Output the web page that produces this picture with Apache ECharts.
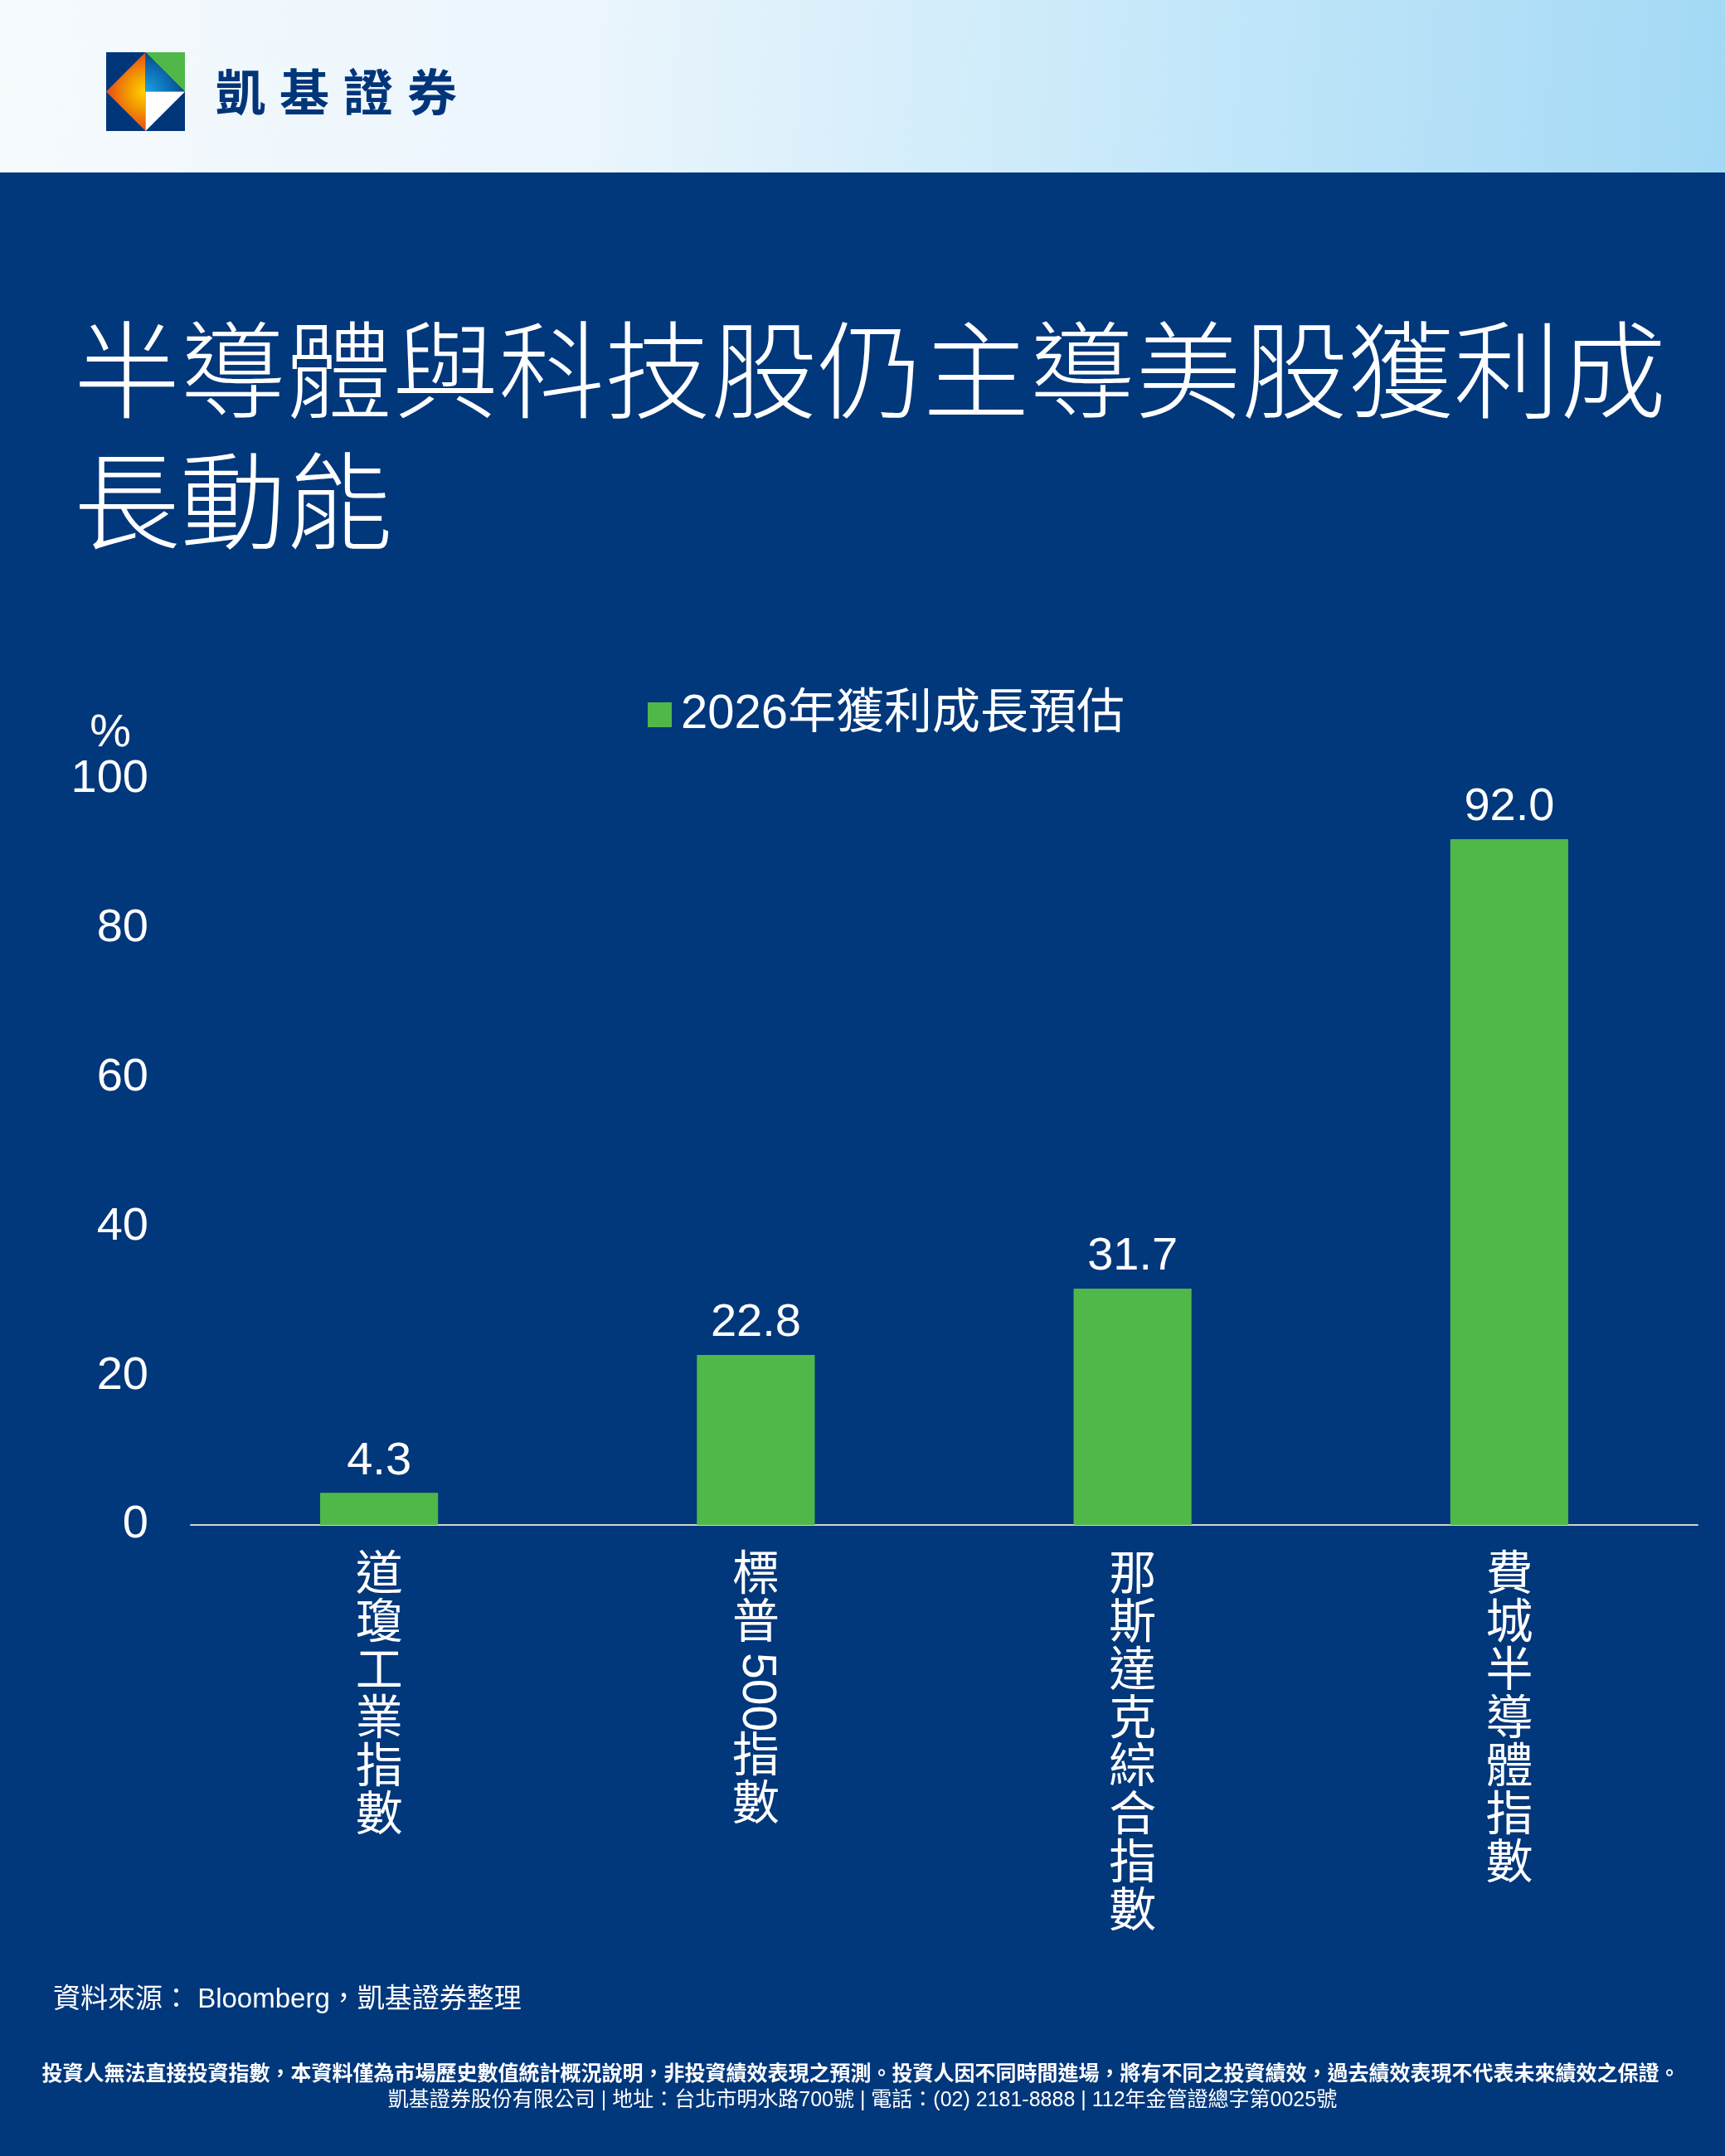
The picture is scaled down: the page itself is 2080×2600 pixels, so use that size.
<!DOCTYPE html>
<html lang="zh-Hant-TW">
<head>
<meta charset="utf-8">
<title>半導體與科技股仍主導美股獲利成長動能</title>
<script src="https://cdn.jsdelivr.net/npm/echarts@6/dist/echarts.min.js"></script>
<style>
  html, body { margin: 0; padding: 0; background: #01377b; }
  #chart { width: 2080px; height: 2600px; }
</style>
</head>
<body>
<div id="chart"></div>
<script>
"use strict";
// 資料
var categories = ["道瓊工業指數", "標普500指數", "那斯達克綜合指數", "費城半導體指數"];
var growth = [4.3, 22.8, 31.7, 92.0];
var seriesName = "2026年獲利成長預估";
var yMin = 0, yMax = 100, yStep = 20;

var titleText = "半導體與科技股仍主導美股獲利成\n長動能";
var sourceText = "資料來源： Bloomberg，凱基證券整理";
var disclaimer = "投資人無法直接投資指數，本資料僅為市場歷史數值統計概況說明，非投資績效表現之預測。投資人因不同時間進場，將有不同之投資績效，過去績效表現不代表未來績效之保證。";
var companyLine = "凱基證券股份有限公司 | 地址：台北市明水路700號 | 電話：(02) 2181-8888 | 112年金管證總字第0025號";
var brand = "凱基證券";

var NAVY = "#01377b";
var GREEN = "#50b848";
var FONT = "'Liberation Sans', 'Noto Sans CJK TC', sans-serif";
var CJK = "'Noto Sans CJK TC', 'Liberation Sans', sans-serif";

var chart = echarts.init(document.getElementById("chart"));

chart.setOption({
    backgroundColor: NAVY,
    animation: false,
    title: {
        text: titleText,
        left: 84,
        top: 362,
        textStyle: {color: "#fff", fontSize: 128, lineHeight: 158, fontWeight: 300, fontFamily: CJK}
    },
    legend: {
        data: [seriesName],
        left: 776,
        top: 828,
        icon: "rect",
        itemWidth: 29,
        itemHeight: 30,
        textStyle: {color: "#fff", fontSize: 58, fontFamily: FONT, padding: [0, 0, 0, 6]}
    },
    grid: {left: 230, right: 33, top: 940, bottom: 761, containLabel: false},
    xAxis: {
        type: "category",
        data: categories,
        axisLine: {lineStyle: {color: "#d3d3d3", width: 2}},
        axisTick: {show: false},
        axisLabel: {show: false}
    },
    yAxis: {
        type: "value",
        min: yMin,
        max: yMax,
        interval: yStep,
        name: "%",
        nameLocation: "end",
        nameGap: 24,
        nameTextStyle: {color: "#fff", fontSize: 56, fontFamily: FONT, align: "right", padding: [0, 72, 0, 0]},
        axisLine: {show: false},
        axisTick: {show: false},
        splitLine: {show: false},
        axisLabel: {color: "#fff", fontSize: 56, fontFamily: FONT, margin: 51}
    },
    series: [{
        name: seriesName,
        type: "bar",
        data: growth,
        barWidth: "31.3%",
        itemStyle: {color: GREEN},
        label: {
            show: true,
            position: "top",
            distance: 10,
            color: "#fff",
            fontSize: 56,
            fontFamily: FONT,
            formatter: function (p) { return p.value.toFixed(1); }
        }
    }]
});

/**
 * 直書類別標籤：中文逐字往下排，數字旋轉 90 度
 */
var catFont = "57px " + FONT;
var catStep = 58;
var measureCtx = document.createElement("canvas").getContext("2d");
function textWidth(s, font) {
    measureCtx.font = font;
    return measureCtx.measureText(s).width;
}
function verticalLabel(text, cx, top, idx) {
    var els = [], y = top, i = 0, n = 0;
    while (i < text.length) {
        if (/[0-9A-Za-z]/.test(text[i])) {
            var run = "";
            while (i < text.length && /[0-9A-Za-z]/.test(text[i])) { run += text[i]; i++; }
            var w = textWidth(run, catFont);
            els.push({
                type: "text", id: "cat" + idx + "_" + (n++),
                x: cx, y: y + 4 + w / 2, rotation: -Math.PI / 2,
                style: {text: run, font: catFont, fill: "#fff", textAlign: "center", textVerticalAlign: "middle", align: "center", verticalAlign: "middle"}
            });
            y += w + 8;
        } else {
            els.push({
                type: "text", id: "cat" + idx + "_" + (n++),
                x: cx, y: y,
                style: {text: text[i], font: catFont, fill: "#fff", textAlign: "center", textVerticalAlign: "top", align: "center", verticalAlign: "top"}
            });
            y += catStep;
            i++;
        }
    }
    return els;
}

var baseY = chart.convertToPixel({yAxisIndex: 0}, 0);
var elements = [];

// 頁首漸層
elements.push({
    type: "rect", id: "header",
    shape: {x: 0, y: 0, width: 2080, height: 208},
    style: {fill: new echarts.graphic.LinearGradient(0, 0, 1, 0.6, [
        {offset: 0, color: "#f6fafd"},
        {offset: 0.35, color: "#eaf5fc"},
        {offset: 0.65, color: "#c8e9fa"},
        {offset: 1, color: "#a3d9f5"}
    ])}
});

// 標誌
elements.push({type: "rect", id: "logoBg", shape: {x: 128, y: 63, width: 95, height: 95}, style: {fill: "#003679"}});
elements.push({
    type: "polygon", id: "logoOrange",
    shape: {points: [[175.5, 63], [128, 110.5], [175.5, 158]]},
    style: {fill: new echarts.graphic.RadialGradient(1, 0.5, 1, [
        {offset: 0, color: "#ffd400"},
        {offset: 0.45, color: "#f39a00"},
        {offset: 1, color: "#e8491b"}
    ])}
});
elements.push({type: "polygon", id: "logoGreen", shape: {points: [[175.5, 63], [223, 63], [223, 110.5]]}, style: {fill: GREEN}});
elements.push({
    type: "polygon", id: "logoBlue",
    shape: {points: [[175.5, 63], [223, 110.5], [175.5, 110.5]]},
    style: {fill: new echarts.graphic.RadialGradient(0, 1, 1.2, [
        {offset: 0, color: "#1aa3e8"},
        {offset: 1, color: "#003679"}
    ])}
});
elements.push({type: "polygon", id: "logoWhite", shape: {points: [[175.5, 110.5], [223, 110.5], [175.5, 158]]}, style: {fill: "#fff"}});
brand.split("").forEach(function (ch, k) {
    elements.push({
        type: "text", id: "brand" + k, x: 290 + k * 77, y: 111,
        style: {text: ch, font: "bold 60px " + CJK, fill: "#003679", textAlign: "center", textVerticalAlign: "middle", align: "center", verticalAlign: "middle"}
    });
});

// 類別標籤
categories.forEach(function (c, idx) {
    var cx = chart.convertToPixel({xAxisIndex: 0}, c);
    elements = elements.concat(verticalLabel(c, cx, baseY + 34, idx));
});

// 頁尾
elements.push({
    type: "text", id: "source", x: 64, y: 2412,
    style: {text: sourceText, font: "33px " + FONT, fill: "#fff", textAlign: "left", textVerticalAlign: "middle", align: "left", verticalAlign: "middle"}
});
elements.push({
    type: "text", id: "disc", x: 1038, y: 2499,
    style: {text: disclaimer, font: "bold 25px " + CJK, fill: "#fff", textAlign: "center", textVerticalAlign: "middle", align: "center", verticalAlign: "middle"}
});
elements.push({
    type: "text", id: "company", x: 1040, y: 2533,
    style: {text: companyLine, font: "25px " + FONT, fill: "#fff", textAlign: "center", textVerticalAlign: "middle", align: "center", verticalAlign: "middle"}
});

chart.setOption({graphic: {elements: elements}});
</script>
</body>
</html>
